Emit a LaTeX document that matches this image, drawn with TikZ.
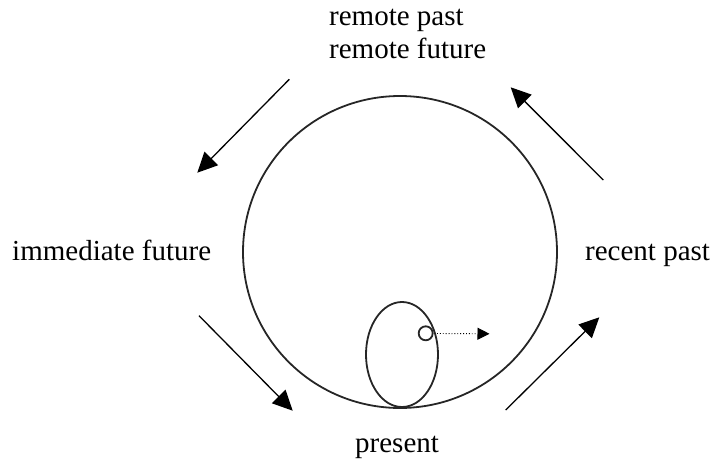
\documentclass[tikz,border=0pt]{standalone}
\usepackage{fontspec}
\setmainfont{Liberation Serif}
\usetikzlibrary{arrows.meta}
\begin{document}
\begin{tikzpicture}[x=1pt,y=-1pt,
  lbl/.style={inner sep=0pt,font=\fontsize{29}{33}\selectfont},
  shapeline/.style={line width=1.8pt,draw=black!85},
  bigarrow/.style={line width=1.3pt,-{Triangle[length=20pt,width=19pt]}},
  smallarrow/.style={line width=0.9pt,dotted,-{Triangle[length=12pt,width=12pt]}}]
\useasboundingbox (0,0) rectangle (716,469);
% texts
\node[lbl,anchor=base west] (remotepast) at (329,25) {remote past};
\node[lbl,anchor=base west] (remotefuture) at (329,58) {remote future};
\node[lbl,anchor=base west] (immediate) at (12,260) {immediate future};
\node[lbl,anchor=base west] (recent) at (585,260) {recent past};
\node[lbl,anchor=base west] (present) at (355,452.5) {present};
% shapes
\draw[shapeline] (400,252) ellipse [x radius=157pt, y radius=156pt];
\draw[shapeline] (402,354.5) ellipse [x radius=36pt, y radius=52.5pt];
\draw[shapeline] (425.7,333.3) circle [radius=7pt];
% arrow coordinates
\coordinate (tlA) at (289.3,79.3);  \coordinate (tlB) at (197.3,172.7);
\coordinate (trA) at (603.3,180);   \coordinate (trB) at (510.7,87.3);
\coordinate (blA) at (199,315.7);   \coordinate (blB) at (292.7,410.7);
\coordinate (brA) at (505.7,410);   \coordinate (brB) at (599.3,317.3);
\coordinate (dA) at (437,333.5);    \coordinate (dB) at (489.5,333.8);
\draw[bigarrow] (tlA) -- (tlB);
\draw[bigarrow] (trA) -- (trB);
\draw[bigarrow] (blA) -- (blB);
\draw[bigarrow] (brA) -- (brB);
\draw[smallarrow] (dA) -- (dB);
\end{tikzpicture}
\end{document}
